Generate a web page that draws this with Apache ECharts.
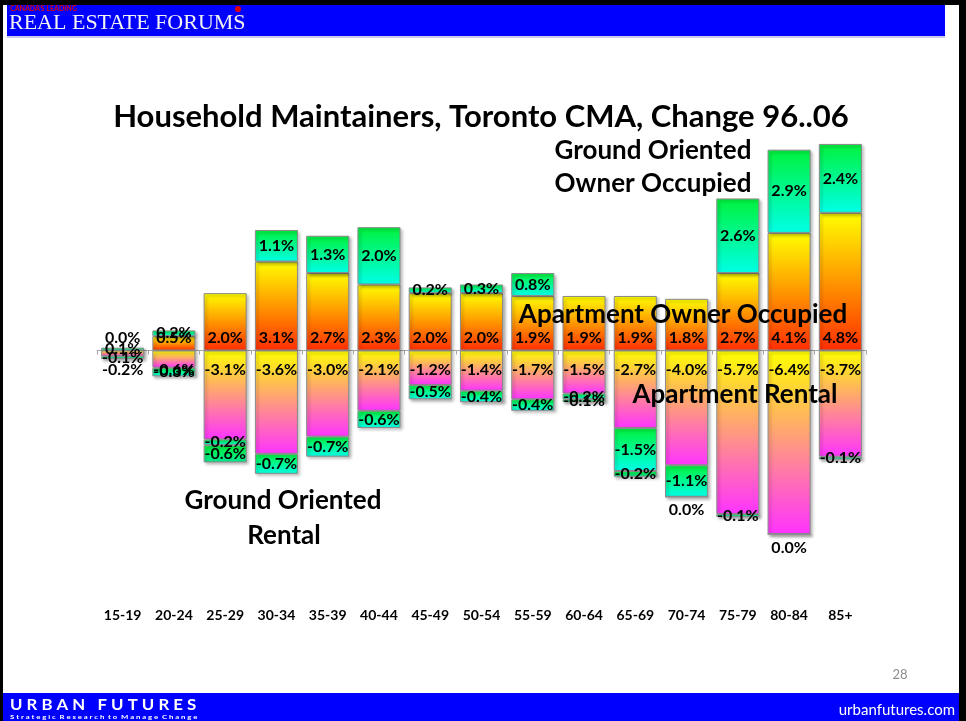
<!DOCTYPE html>
<html>
<head>
<meta charset="utf-8">
<title>Household Maintainers, Toronto CMA, Change 96..06</title>
<script src="https://cdn.jsdelivr.net/npm/echarts@6/dist/echarts.min.js"></script>
<style>
  html, body { margin: 0; padding: 0; background: #fff; }
  #chart { width: 966px; height: 721px; }
</style>
</head>
<body>
<div id="chart"></div>
<script>
// change in share of household maintainers, 1996..2006 (percentage points)
const ageGroups = ['15-19', '20-24', '25-29', '30-34', '35-39', '40-44', '45-49', '50-54',
  '55-59', '60-64', '65-69', '70-74', '75-79', '80-84', '85+'];
const aptOwner = [0.0, 0.5, 2.0, 3.1, 2.7, 2.3, 2.0, 2.0, 1.9, 1.9, 1.9, 1.8, 2.7, 4.1, 4.8];
const groundOwner = [0.1, 0.2, null, 1.1, 1.3, 2.0, 0.2, 0.3, 0.8, null, null, null, 2.6, 2.9, 2.4];
const aptRental = [-0.2, -0.6, -3.1, -3.6, -3.0, -2.1, -1.2, -1.4, -1.7, -1.5, -2.7, -4.0, -5.7, -6.4, -3.7];
const groundRental = [-0.1, -0.3, -0.2, -0.7, -0.7, -0.6, -0.5, -0.4, -0.4, -0.2, -1.5, -1.1, -0.1, null, -0.1];
const otherRental = [null, null, -0.6, null, null, null, null, null, null, -0.1, -0.2, 0.0, null, 0.0, null];

const FONT = 'Lato, "Open Sans", sans-serif';
const BLUE = '#0000fe';

const grad = (top, bottom) => new echarts.graphic.LinearGradient(0, 0, 0, 1, [
  { offset: 0, color: top },
  { offset: 1, color: bottom }
]);

const pct = p => (p.value == null ? '' : p.value.toFixed(1) + '%');

const barStyle = fill => ({
  color: fill,
  borderColor: '#8a8a8a',
  borderWidth: 1,
  shadowColor: 'rgba(0,0,0,0.3)',
  shadowBlur: 3,
  shadowOffsetX: 2,
  shadowOffsetY: 2
});

const label = (position, distance) => ({
  show: true,
  position: position,
  distance: distance,
  formatter: pct,
  color: '#000',
  fontFamily: FONT,
  fontWeight: 'bold',
  fontSize: 16
});

const makeSeries = (name, values, fill, lbl) => ({
  name: name,
  type: 'bar',
  stack: 'total',
  barWidth: '84%',
  itemStyle: barStyle(fill),
  label: lbl,
  data: values
});

const text = (str, x, y, size, extra) => Object.assign({
  type: 'text',
  x: x,
  y: y,
  z: 100,
  style: {
    text: str,
    fill: '#000',
    font: 'bold ' + size + 'px ' + FONT,
    textAlign: 'center',
    textVerticalAlign: 'middle'
  }
}, extra || {});

const chart = echarts.init(document.getElementById('chart'));

chart.setOption({
  backgroundColor: '#fff',
  animation: false,
  grid: { left: 97, right: 100, top: 121, height: 459, containLabel: false, outerBoundsMode: 'none' },
  xAxis: [
    {
      // zero line with boundary ticks
      type: 'category',
      data: ageGroups,
      position: 'top',
      axisLine: { onZero: true, lineStyle: { color: '#a6a6a6', width: 1 } },
      axisTick: { show: true, inside: true, length: 4, lineStyle: { color: '#a6a6a6' } },
      axisLabel: { show: false }
    },
    {
      // category labels at the low end
      type: 'category',
      data: ageGroups,
      position: 'bottom',
      axisLine: { show: false, onZero: false },
      axisTick: { show: false },
      axisLabel: {
        margin: 28,
        interval: 0,
        color: '#000',
        fontFamily: FONT,
        fontWeight: 'bold',
        fontSize: 14
      }
    }
  ],
  yAxis: { type: 'value', min: -8, max: 8, show: false },
  series: [
    makeSeries('Apartment Owner Occupied', aptOwner, grad('#ffff00', '#ff2e00'), label('insideBottom', 5)),
    makeSeries('Ground Oriented Owner Occupied', groundOwner, grad('#00f23c', '#00ffe6'), label('inside', 0)),
    makeSeries('Apartment Rental', aptRental, grad('#ffff00', '#ff33ff'), label('insideTop', 11)),
    makeSeries('Ground Oriented Rental', groundRental, grad('#00f23c', '#00ffe6'), label('inside', 0)),
    makeSeries('Other Rental', otherRental.map(v => (v === 0 ? { value: v, label: { position: 'bottom', distance: 5 } } : v)),
      grad('#00f23c', '#00e890'), label('inside', 0))
  ],
  graphic: {
    elements: [
      // slide frame
      { type: 'rect', shape: { x: 0, y: 0, width: 966, height: 5 }, style: { fill: '#000' }, z: 1 },
      { type: 'rect', shape: { x: 0, y: 0, width: 3, height: 721 }, style: { fill: '#000' }, z: 1 },
      { type: 'rect', shape: { x: 959, y: 0, width: 7, height: 721 }, style: { fill: '#000' }, z: 1 },
      // header band
      { type: 'rect', shape: { x: 7, y: 5, width: 938, height: 31 }, style: { fill: BLUE }, z: 1 },
      { type: 'rect', shape: { x: 7, y: 36, width: 938, height: 2 }, style: { fill: '#c8c8f0' }, z: 1 },
      { type: 'text', x: 10, y: 9, z: 2, style: { text: "CANADA'S LEADING", fill: '#e00000', font: 'bold 7px ' + FONT, textVerticalAlign: 'middle' } },
      { type: 'circle', shape: { cx: 238, cy: 9, r: 3 }, style: { fill: '#e00000' }, z: 2 },
      { type: 'text', x: 9, y: 23, z: 2, style: { text: 'REAL ESTATE FORUMS', fill: '#f2f2f2', font: '22px "Liberation Serif", serif', textVerticalAlign: 'middle' } },
      // footer band
      { type: 'rect', shape: { x: 3, y: 693, width: 956, height: 28 }, style: { fill: BLUE }, z: 1 },
      { type: 'text', x: 10, y: 705, z: 2, scaleX: 1.12, style: { text: 'U R B A N   F U T U R E S', fill: '#fff', font: 'bold 15px ' + FONT, textVerticalAlign: 'middle' } },
      { type: 'text', x: 10, y: 717, z: 2, scaleX: 1.29, style: { text: 'S t r a t e g i c  R e s e a r c h  t o  M a n a g e  C h a n g e', fill: '#fff', font: 'bold 6px ' + FONT, textVerticalAlign: 'middle' } },
      { type: 'text', x: 955, y: 710, z: 2, style: { text: 'urbanfutures.com', fill: '#fff', font: '15px ' + FONT, textAlign: 'right', textVerticalAlign: 'middle' } },
      { type: 'text', x: 900, y: 675, z: 2, style: { text: '28', fill: '#8c8c8c', font: '13px ' + FONT, textAlign: 'center', textVerticalAlign: 'middle' } },
      // title and in-plot annotations
      text('Household Maintainers, Toronto CMA, Change 96..06', 481, 117, 31),
      text('Ground Oriented', 653, 151, 26),
      text('Owner Occupied', 653, 184, 26),
      text('Apartment Owner Occupied', 683, 315, 26),
      text('Apartment Rental', 735, 395, 26),
      text('Ground Oriented', 283, 501, 26),
      text('Rental', 284, 536, 26)
    ]
  }
});
</script>
</body>
</html>
